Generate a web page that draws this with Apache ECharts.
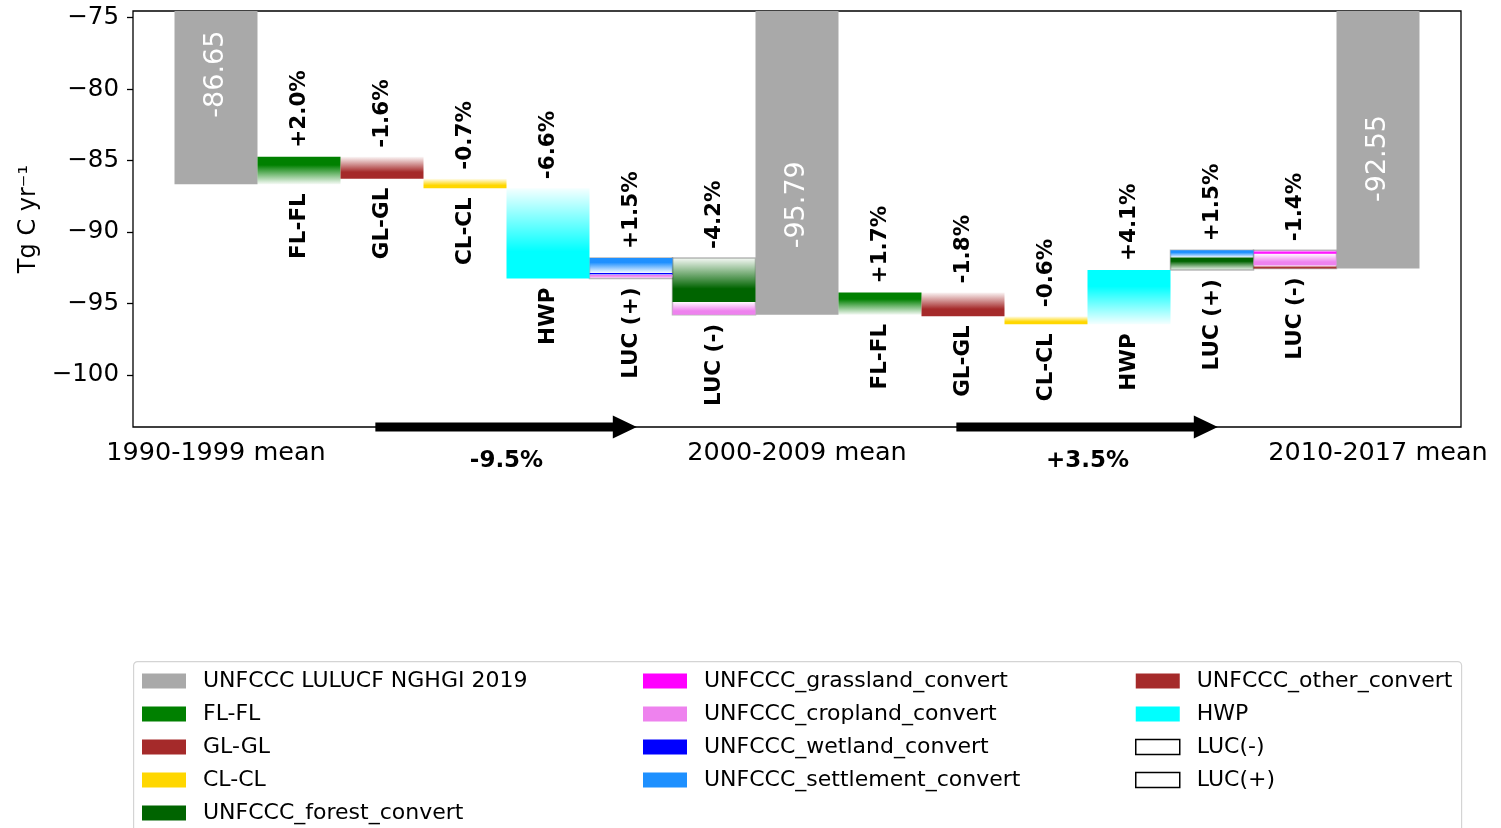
<!DOCTYPE html>
<html>
<head>
<meta charset="utf-8">
<title>LULUCF sink: decadal changes by driver</title>
<script src="https://cdn.jsdelivr.net/npm/echarts@6/dist/echarts.min.js"></script>
<style>
  html, body { margin: 0; padding: 0; background: #fff; }
  #chart { width: 1501px; height: 828px; }
</style>
</head>
<body>
<div id="chart"></div>
<script>
// Period means of the national inventory (Tg C yr-1)
const periods = ['1990-1999 mean', '2000-2009 mean', '2010-2017 mean'];
const nghgiMeans = [-86.65, -95.79, -92.55];

// Driver contributions between consecutive periods (Tg C yr-1)
const drivers = ['FL-FL', 'GL-GL', 'CL-CL', 'HWP'];
const driverDeltas1 = [1.92, -1.53, -0.67, -6.32];
const driverDeltas2 = [1.57, -1.67, -0.56, 3.79];

// Land-use change components, split into gains LUC(+) and losses LUC(-)
const lucComponents = [
  'UNFCCC_forest_convert', 'UNFCCC_grassland_convert', 'UNFCCC_cropland_convert',
  'UNFCCC_wetland_convert', 'UNFCCC_settlement_convert', 'UNFCCC_other_convert'
];
const lucGain1 = [0, 0, 0.25, 0.14, 1.05, 0];
const lucLoss1 = [-3.08, 0, -0.90, 0, 0, 0];
const lucGain2 = [0.88, 0, 0, 0, 0.51, 0];
const lucLoss2 = [0, -0.25, -0.82, 0, 0, -0.21];

const yTicks = [-100, -95, -90, -85, -80, -75];

// ---- styling ----
const FONT = '"DejaVu Sans", "Liberation Sans", sans-serif';
const NGHGI = 'UNFCCC LULUCF NGHGI 2019';
const colors = {
  [NGHGI]: '#a9a9a9',
  'FL-FL': '#008000',
  'GL-GL': '#a52a2a',
  'CL-CL': '#ffd700',
  'UNFCCC_forest_convert': '#006400',
  'UNFCCC_grassland_convert': '#ff00ff',
  'UNFCCC_cropland_convert': '#ee82ee',
  'UNFCCC_wetland_convert': '#0000ff',
  'UNFCCC_settlement_convert': '#1e90ff',
  'UNFCCC_other_convert': '#a52a2a',
  'HWP': '#00ffff'
};

// ---- waterfall construction ----
const segs = {};
Object.keys(colors).forEach(k => { segs[k] = []; });
const boxes = { 'LUC(-)': [], 'LUC(+)': [] };
const barLabels = [];
const totals = [];

segs[NGHGI] = nghgiMeans.map((v, i) => [7 * i, 0, v]);

[[driverDeltas1, lucGain1, lucLoss1], [driverDeltas2, lucGain2, lucLoss2]].forEach(([dd, gain, loss], p) => {
  const ref = Math.abs(nghgiMeans[p + 1]);
  const base = 7 * p;
  let level = nghgiMeans[p];
  dd.forEach((d, i) => {
    const x = base + 1 + i;
    segs[drivers[i]].push([x, level, level + d]);
    barLabels.push({ x, lo: Math.min(level, level + d), hi: Math.max(level, level + d), pct: d / ref, name: drivers[i] });
    level += d;
  });
  [['LUC(+)', gain, 5, 'LUC (+)'], ['LUC(-)', loss, 6, 'LUC (-)']].forEach(([box, parts, off, text]) => {
    const x = base + off;
    const start = level;
    parts.forEach((v, j) => {
      if (v !== 0) {
        segs[lucComponents[j]].push([x, level, level + v]);
        level += v;
      }
    });
    boxes[box].push([x, start, level]);
    barLabels.push({ x, lo: Math.min(start, level), hi: Math.max(start, level), pct: (level - start) / ref, name: text });
  });
  totals.push({ p, pct: (nghgiMeans[p + 1] - nghgiMeans[p]) / ref });
});

function fmtPct(v) {
  const s = (Math.abs(v) * 100).toFixed(1);
  return (v >= 0 ? '+' : '-') + s + '%';
}

function fade(hex, a) {
  const n = parseInt(hex.slice(1), 16);
  return 'rgba(' + (n >> 16 & 255) + ',' + (n >> 8 & 255) + ',' + (n & 255) + ',' + a + ')';
}

function barRenderer(color, gradient, stroke) {
  return function (params, api) {
    const x = api.value(0), y0 = api.value(1), y1 = api.value(2);
    const a = api.coord([x - 0.5, y0]);
    const b = api.coord([x + 0.5, y1]);
    const top = Math.min(a[1], b[1]);
    const h = Math.abs(a[1] - b[1]);
    let fill = color;
    if (gradient) {
      const up = y1 > y0;
      fill = new echarts.graphic.LinearGradient(0, up ? 0 : 1, 0, up ? 1 : 0, [
        { offset: 0, color: color },
        { offset: 0.3, color: color },
        { offset: 1, color: fade(color, 0.04) }
      ]);
    }
    const style = { fill: fill };
    if (stroke) { style.stroke = stroke; style.lineWidth = 1.5; }
    return { type: 'rect', shape: { x: a[0], y: top, width: b[0] - a[0], height: h }, style: style };
  };
}

const series = [];

// LUC frames underneath their components
['LUC(-)', 'LUC(+)'].forEach(name => {
  series.push({
    type: 'custom', name: name, silent: true, clip: true,
    itemStyle: { color: '#ffffff', borderColor: '#000' },
    renderItem: barRenderer('#ffffff', false, 'rgba(0,0,0,0.28)'),
    encode: { x: 0, y: [1, 2] },
    data: boxes[name]
  });
});

Object.keys(colors).forEach(name => {
  series.push({
    type: 'custom', name: name, silent: true, clip: true,
    itemStyle: { color: colors[name] },
    renderItem: barRenderer(colors[name], name !== NGHGI, null),
    encode: { x: 0, y: [1, 2] },
    data: segs[name]
  });
});

// Values written inside the grey period bars
series.push({
  type: 'custom', silent: true, clip: false,
  renderItem: function (params, api) {
    const v = nghgiMeans[params.dataIndex];
    const c = api.coord([api.value(0), v + 7.7]);
    return {
      type: 'text', x: c[0], y: c[1], rotation: Math.PI / 2,
      style: { text: v.toFixed(2), fill: '#ffffff', fontSize: 27, fontFamily: FONT, align: 'center', verticalAlign: 'middle' }
    };
  },
  encode: { x: 0, y: 1 },
  data: nghgiMeans.map((v, i) => [7 * i, v])
});

// Percentage above each step and driver name below it
series.push({
  type: 'custom', silent: true, clip: false,
  renderItem: function (params, api) {
    const l = barLabels[params.dataIndex];
    const t = api.coord([l.x, l.hi]);
    const b = api.coord([l.x, l.lo]);
    const gap = 9;
    const common = { fill: '#000', fontSize: 21.5, fontWeight: 'bold', fontFamily: FONT, verticalAlign: 'middle' };
    return {
      type: 'group',
      children: [
        { type: 'text', x: t[0], y: t[1] - gap, rotation: Math.PI / 2,
          style: Object.assign({ text: fmtPct(l.pct), align: 'left' }, common) },
        { type: 'text', x: b[0], y: b[1] + gap, rotation: Math.PI / 2,
          style: Object.assign({ text: l.name, align: 'right' }, common) }
      ]
    };
  },
  encode: { x: 0, y: [1, 2] },
  data: barLabels.map(l => [l.x, l.lo, l.hi])
});

// Period-to-period arrows along the bottom axis
const Y_MIN = -103.64, Y_MAX = -74.53;
series.push({
  type: 'custom', silent: true, clip: false,
  renderItem: function (params, api) {
    const t = totals[params.dataIndex];
    const base = 7 * t.p;
    const a = api.coord([base + 1.92, Y_MIN]);
    const b = api.coord([base + 5.07, Y_MIN]);
    const m = api.coord([base + 3.5, Y_MIN]);
    const y = a[1];
    const hw = 4.5, hl = 24, hh = 11.5;
    return {
      type: 'group',
      children: [
        { type: 'polygon',
          shape: { points: [[a[0], y - hw], [b[0] - hl, y - hw], [b[0] - hl, y - hh], [b[0], y], [b[0] - hl, y + hh], [b[0] - hl, y + hw], [a[0], y + hw]] },
          style: { fill: '#000' } },
        { type: 'text', x: m[0], y: y + 34,
          style: { text: fmtPct(t.pct), fill: '#000', fontSize: 23, fontWeight: 'bold', fontFamily: FONT, align: 'center', verticalAlign: 'middle' } }
      ]
    };
  },
  encode: { x: 0, y: 1 },
  data: totals.map(t => [7 * t.p + 3.5, Y_MIN])
});

const legendCommon = {
  orient: 'vertical', top: 670, height: 260, padding: 0, itemWidth: 44, itemHeight: 15, itemGap: 11,
  icon: 'rect', selectedMode: false,
  textStyle: { fontSize: 22, fontFamily: FONT, color: '#000', lineHeight: 20, padding: [0, 0, 0, 12] }
};
function legendItem(name) {
  if (name === 'LUC(-)' || name === 'LUC(+)') {
    return { name: name, itemStyle: { color: '#ffffff', borderColor: '#000', borderWidth: 1.5 } };
  }
  return { name: name, itemStyle: { color: colors[name] } };
}

const option = {
  backgroundColor: '#ffffff',
  animation: false,
  textStyle: { fontFamily: FONT },
  grid: { left: 133, right: 40, top: 11, bottom: 401, show: true, borderColor: '#000', borderWidth: 1.3, containLabel: false, outerBoundsMode: 'none' },
  xAxis: {
    type: 'value', min: -1, max: 15,
    splitLine: { show: false }, axisTick: { show: false }, axisLine: { show: false, onZero: false },
    axisLabel: {
      customValues: [0, 7, 14], formatter: v => periods[Math.round(v / 7)],
      fontSize: 25.5, color: '#000', margin: 13, fontFamily: FONT
    }
  },
  yAxis: {
    type: 'value', min: Y_MIN, max: Y_MAX,
    name: 'Tg C yr\u207B\u00B9', nameLocation: 'middle', nameGap: 90, nameRotate: 90,
    nameTextStyle: { fontSize: 24, color: '#000', fontFamily: FONT },
    splitLine: { show: false }, axisLine: { show: false, onZero: false },
    axisTick: { show: true, customValues: yTicks, length: 6, inside: false, lineStyle: { color: '#000', width: 1.3 } },
    axisLabel: {
      customValues: yTicks, formatter: v => (v < 0 ? '\u2212' : '') + Math.abs(v),
      fontSize: 24.5, color: '#000', margin: 14, fontFamily: FONT
    }
  },
  legend: [
    Object.assign({ left: 142, data: [NGHGI, 'FL-FL', 'GL-GL', 'CL-CL', 'UNFCCC_forest_convert'].map(legendItem) }, legendCommon),
    Object.assign({ left: 643, data: ['UNFCCC_grassland_convert', 'UNFCCC_cropland_convert', 'UNFCCC_wetland_convert', 'UNFCCC_settlement_convert'].map(legendItem) }, legendCommon),
    Object.assign({ left: 1135, data: ['UNFCCC_other_convert', 'HWP', 'LUC(-)', 'LUC(+)'].map(legendItem) }, legendCommon)
  ],
  graphic: [{
    type: 'rect', left: 133, top: 661, z: -1,
    shape: { width: 1328, height: 200, r: 4 },
    style: { fill: '#ffffff', stroke: '#d4d4d4', lineWidth: 1.2 }
  }],
  series: series
};

const chart = echarts.init(document.getElementById('chart'), null, { renderer: 'canvas' });
chart.setOption(option);
</script>
</body>
</html>
